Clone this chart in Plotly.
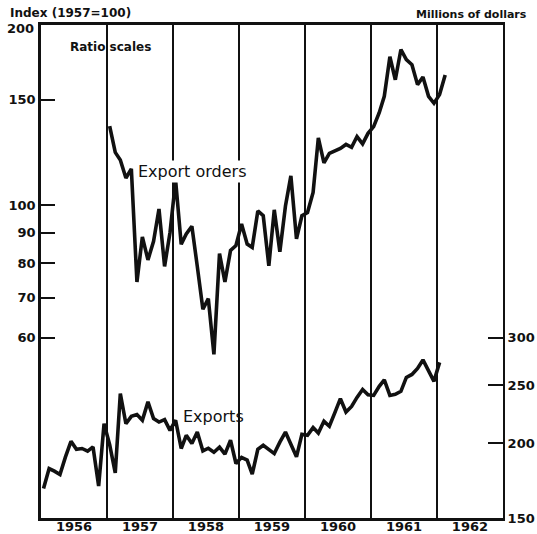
import numpy as np
import pandas as pd
import plotly.graph_objects as go

# Monthly values
# Export orders: index, 1957 = 100, Jan 1957 - Feb 1962
orders_start = "1957-01-01"
export_orders = [
    135.5, 122.5, 119, 111, 115, 74.4, 88.5, 81, 87, 98.5, 79, 90,        # 1957
    110, 86, 89.5, 92.2, 79, 67, 69.8, 56.3, 83, 74.4, 84, 85.6,          # 1958
    93, 86.1, 85, 97.8, 96, 79.2, 98.2, 83.6, 99.7, 111.9, 87.8, 96,      # 1959
    97.2, 105, 129.5, 117.7, 122, 123.2, 124.4, 126.3, 124.9, 130.2, 126.6, 131.8,  # 1960
    135.3, 142.7, 152, 177, 162, 182, 175, 171.7, 159, 163.7, 152, 148,   # 1961
    153, 165,                                                              # 1962
]

# Exports: millions of dollars, Jan 1956 - Jan 1962
exports_start = "1956-01-01"
exports = [
    168, 181.4, 179.6, 177.3, 189.6, 201.5, 195.4, 196, 194, 197.2, 169.6, 215.6,   # 1956
    199, 178.4, 242, 215.6, 221.8, 223.3, 218.5, 234.5, 219.9, 217, 219, 210.2,     # 1957
    218.5, 196, 206.2, 199.8, 208.8, 194.2, 196.2, 193.2, 197, 191.8, 202.3, 185,   # 1958
    189.4, 187.4, 177.6, 195.4, 198.5, 195.4, 192.2, 200.8, 208.8, 199.2, 189.8, 207,  # 1959
    206.2, 212.4, 208, 217.6, 213.5, 225.2, 237.4, 225.5, 230.4, 238.6, 246, 241,   # 1960
    240.4, 249, 255.2, 240.4, 241.4, 244.2, 257.6, 260.6, 266.7, 275.6, 264.6, 253.8,  # 1961
    273,                                                                              # 1962
]

years = ["1956", "1957", "1958", "1959", "1960", "1961", "1962"]
left_ticks = [60, 70, 80, 90, 100, 150, 200]
right_ticks = [150, 200, 250, 300]


def months(start, n):
    # plot each month at its middle
    return pd.date_range(start, periods=n, freq="MS") + pd.Timedelta(days=14)


FONT = "DejaVu Sans"
INK = "#111111"
TICKFONT = dict(size=13, weight="bold")

fig = go.Figure()
fig.add_trace(go.Scatter(x=months(orders_start, len(export_orders)), y=export_orders,
                         mode="lines", line=dict(color=INK, width=3.6), yaxis="y"))
fig.add_trace(go.Scatter(x=months(exports_start, len(exports)), y=exports,
                         mode="lines", line=dict(color=INK, width=3.6), yaxis="y2"))

fig.update_layout(
    width=537, height=534,
    margin=dict(l=41, r=34, t=25, b=16),
    paper_bgcolor="white", plot_bgcolor="white",
    showlegend=False,
    font=dict(family=FONT, color=INK),
    xaxis=dict(
        range=["1956-01-01", "1963-01-01"],
        tickmode="array",
        tickvals=[f"{y}-07-02" for y in years],
        ticktext=years,
        tickfont=TICKFONT,
        ticklabelstandoff=-5,
        ticks="", showgrid=False, zeroline=False,
        showline=True, linecolor=INK, linewidth=2.5, mirror=True,
        minor=dict(tickmode="array", tickvals=[f"{y}-01-01" for y in years[1:]],
                   showgrid=True, gridcolor=INK, gridwidth=1.6, ticks=""),
        automargin=False,
    ),
    yaxis=dict(
        type="log", range=[np.log10(30), np.log10(200)],
        tickmode="array", tickvals=left_ticks,
        # the top label sits a little below the corner, added as an annotation
        ticktext=[str(v) if v != 200 else "" for v in left_ticks],
        tickfont=TICKFONT,
        ticks="inside", ticklen=14, tickwidth=2, tickcolor=INK,
        showgrid=False, zeroline=False,
        showline=True, linecolor=INK, linewidth=2.5,
        automargin=False,
    ),
    yaxis2=dict(
        type="log", range=[np.log10(150), np.log10(1000)],
        overlaying="y", side="right",
        tickmode="array", tickvals=right_ticks, ticktext=[str(v) for v in right_ticks],
        tickfont=TICKFONT,
        ticks="inside", ticklen=15, tickwidth=2, tickcolor=INK,
        showgrid=False, zeroline=False,
        showline=True, linecolor=INK, linewidth=2,
        automargin=False,
    ),
)

fig.add_annotation(text="200", xref="paper", yref="paper",
                   x=-0.011, y=0.993, xanchor="right", yanchor="middle",
                   showarrow=False, font=TICKFONT)
fig.add_annotation(text="Index (1957=100)", xref="paper", yref="paper",
                   x=-0.072, y=1.025, xanchor="left", yanchor="middle",
                   showarrow=False, font=dict(size=12, weight="bold"))
fig.add_annotation(text="Millions of dollars", xref="paper", yref="paper",
                   x=1.056, y=1.022, xanchor="right", yanchor="middle",
                   showarrow=False, font=dict(size=11, weight="bold"))
fig.add_annotation(text="<b>Ratio scales</b>", xref="paper", yref="paper",
                   x=0.058, y=0.955, xanchor="left", yanchor="middle",
                   showarrow=False, font=dict(size=12))
fig.add_annotation(text="Export orders", xref="x", yref="y",
                   x="1957-06-10", y=np.log10(114), xanchor="left", yanchor="middle",
                   showarrow=False, font=dict(size=16), bgcolor="white")
fig.add_annotation(text="Exports", xref="x", yref="y2",
                   x="1958-02-15", y=np.log10(222), xanchor="left", yanchor="middle",
                   showarrow=False, font=dict(size=16))

# drop the page's default body margin so the 537x534 figure fills the window
fig.write_html("out.html", config={"displayModeBar": False},
               post_script="document.body.style.margin = '0';")
